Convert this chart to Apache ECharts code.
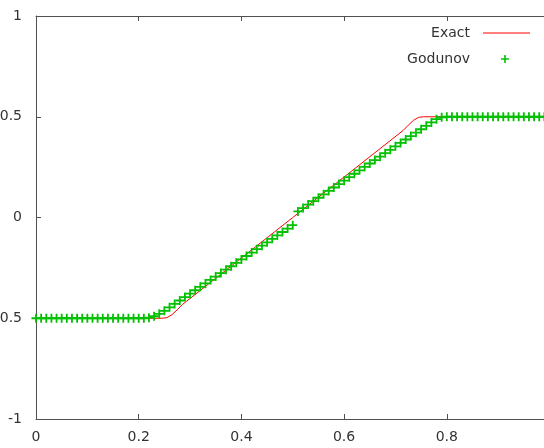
<!DOCTYPE html>
<html>
<head>
<meta charset="utf-8">
<script src="https://cdn.jsdelivr.net/npm/echarts@6/dist/echarts.min.js"></script>
<style>html,body{margin:0;padding:0;background:#fff}#c{width:544px;height:448px}</style>
</head>
<body>
<div id="c"></div>
<script>
// Tick values
const xTicks = [0, 0.2, 0.4, 0.6, 0.8, 1];
const yTicks = [-1, -0.5, 0, 0.5, 1];

// Exact solution (red line)
const exactX = [0, 0.245, 0.255, 0.265, 0.275, 0.285, 0.5, 0.715, 0.725, 0.735, 0.745, 0.755, 1];
const exactY = [-0.5, -0.5, -0.497, -0.482, -0.458, -0.432, 0, 0.432, 0.458, 0.482, 0.497, 0.5, 0.5];

// Godunov scheme (green pluses), x = 0.00 .. 0.99 step 0.01
const godX = [
 0.00,0.01,0.02,0.03,0.04,0.05,0.06,0.07,0.08,0.09,
 0.10,0.11,0.12,0.13,0.14,0.15,0.16,0.17,0.18,0.19,
 0.20,0.21,0.22,0.23,0.24,0.25,0.26,0.27,0.28,0.29,
 0.30,0.31,0.32,0.33,0.34,0.35,0.36,0.37,0.38,0.39,
 0.40,0.41,0.42,0.43,0.44,0.45,0.46,0.47,0.48,0.49,
 0.50,0.51,0.52,0.53,0.54,0.55,0.56,0.57,0.58,0.59,
 0.60,0.61,0.62,0.63,0.64,0.65,0.66,0.67,0.68,0.69,
 0.70,0.71,0.72,0.73,0.74,0.75,0.76,0.77,0.78,0.79,
 0.80,0.81,0.82,0.83,0.84,0.85,0.86,0.87,0.88,0.89,
 0.90,0.91,0.92,0.93,0.94,0.95,0.96,0.97,0.98,0.99
];
const godY = [
 -0.5,-0.5,-0.5,-0.5,-0.5,-0.5,-0.5,-0.5,-0.5,-0.5,
 -0.5,-0.5,-0.5,-0.5,-0.5,-0.5,-0.5,-0.5,-0.5,-0.5,
 -0.5,-0.5,-0.497,-0.49,-0.478,-0.463,-0.446,-0.429,-0.412,-0.395,
 -0.378,-0.361,-0.344,-0.327,-0.310,-0.293,-0.276,-0.259,-0.242,-0.225,
 -0.208,-0.191,-0.174,-0.157,-0.140,-0.123,-0.106,-0.089,-0.072,-0.055,
 -0.038,0.030,0.047,0.064,0.081,0.098,0.115,0.132,0.149,0.166,
 0.183,0.200,0.217,0.234,0.251,0.268,0.285,0.302,0.319,0.336,
 0.353,0.370,0.387,0.404,0.421,0.438,0.455,0.472,0.488,0.497,
 0.5,0.5,0.5,0.5,0.5,0.5,0.5,0.5,0.5,0.5,
 0.5,0.5,0.5,0.5,0.5,0.5,0.5,0.5,0.5,0.5
];

const seriesNames = ['Exact', 'Godunov'];

const exactData = exactX.map((x, i) => [x, exactY[i]]);
const godData = godX.map((x, i) => [x, godY[i]]);

const plus = 'path://M4,0H6V4H10V6H6V10H4V6H0V4H4Z';
const font = 'DejaVu Sans';
const fs = 14;
const axisCol = '#505050';
const textCol = '#333';

const chart = echarts.init(document.getElementById('c'), null, {renderer: 'canvas'});
chart.setOption({
  animation: false,
  backgroundColor: '#fff',
  textStyle: {fontFamily: font},
  grid: {left: 36, top: 16, width: 513.5, height: 403, containLabel: false, outerBoundsMode: 'none'},
  legend: [
    {
      data: [{name: seriesNames[0], icon: 'rect', itemStyle: {color: '#ff0000'}}],
      orient: 'vertical', align: 'right',
      right: 9, top: 21, itemWidth: 47, itemHeight: 1,
      textStyle: {fontFamily: font, fontSize: fs, color: textCol, padding: [0, 8, 0, 0]},
      selectedMode: false
    },
    {
      data: [{name: seriesNames[1], icon: plus}], orient: 'vertical', align: 'right',
      right: 30, top: 47, itemWidth: 8, itemHeight: 8,
      textStyle: {fontFamily: font, fontSize: fs, color: textCol, padding: [0, 26, 0, 0]},
      selectedMode: false
    }
  ],
  xAxis: [
    {
      type: 'value', min: xTicks[0], max: xTicks[xTicks.length - 1], interval: 0.2,
      position: 'bottom',
      axisLine: {show: true, onZero: false, lineStyle: {color: axisCol, width: 1}},
      axisTick: {show: true, inside: true, length: 5, lineStyle: {color: axisCol}},
      axisLabel: {color: textCol, fontSize: fs, fontFamily: font, margin: 11},
      splitLine: {show: false}
    },
    {
      type: 'value', min: xTicks[0], max: xTicks[xTicks.length - 1], interval: 0.2,
      position: 'top',
      axisLine: {show: true, onZero: false, lineStyle: {color: axisCol, width: 1}},
      axisTick: {show: true, inside: true, length: 5, lineStyle: {color: axisCol}},
      axisLabel: {show: false},
      splitLine: {show: false}
    }
  ],
  yAxis: {
    type: 'value', min: yTicks[0], max: yTicks[yTicks.length - 1], interval: 0.5,
    axisLine: {show: true, onZero: false, lineStyle: {color: axisCol, width: 1}},
    axisTick: {show: true, inside: true, length: 5, lineStyle: {color: axisCol}},
    axisLabel: {color: textCol, fontSize: fs, fontFamily: font, margin: 14},
    splitLine: {show: false}
  },
  series: [
    {
      name: seriesNames[0], type: 'line', data: exactData,
      showSymbol: false, symbol: 'none',
      lineStyle: {color: '#ff0000', width: 1},
      itemStyle: {color: '#ff0000'},
      z: 2
    },
    {
      name: seriesNames[1], type: 'scatter', data: godData,
      symbol: plus, symbolSize: 9,
      itemStyle: {color: '#00c000', opacity: 1},
      z: 3
    }
  ]
});
</script>
</body>
</html>
